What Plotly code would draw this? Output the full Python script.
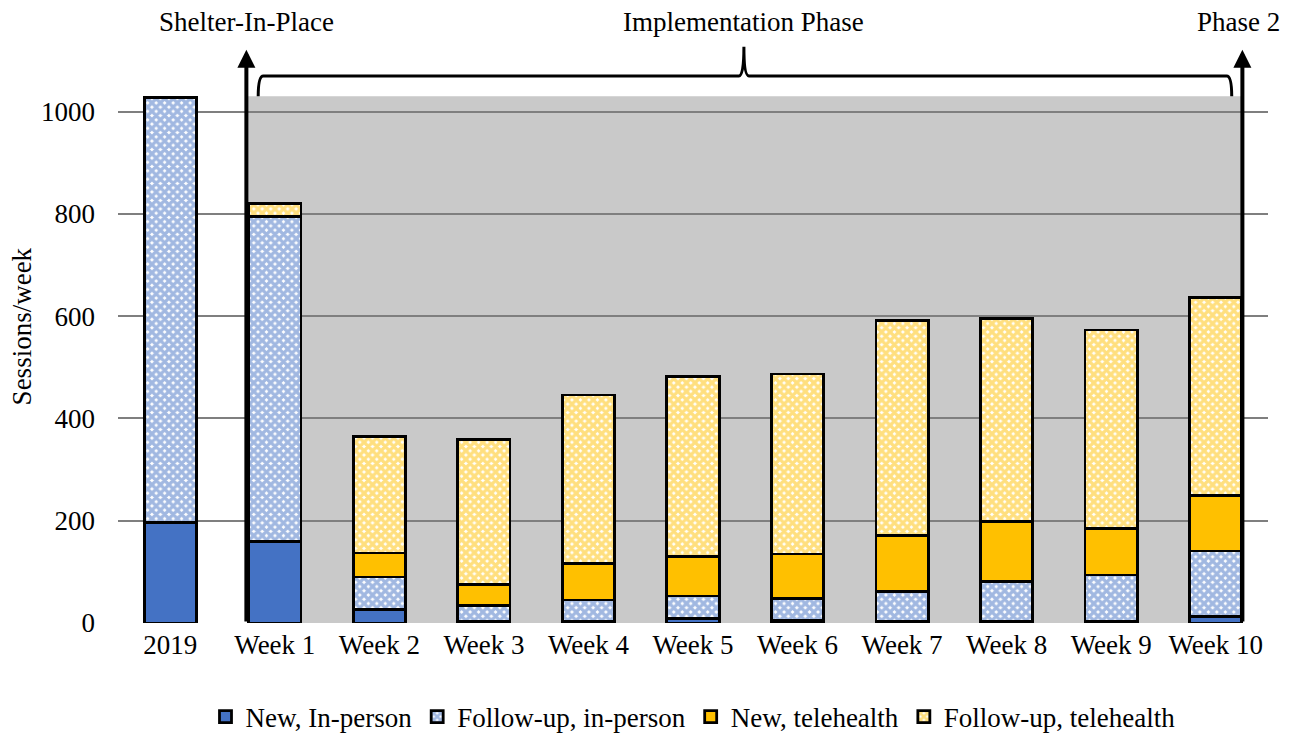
import plotly.graph_objects as go

categories = ["2019", "Week 1", "Week 2", "Week 3", "Week 4", "Week 5",
              "Week 6", "Week 7", "Week 8", "Week 9", "Week 10"]
new_inperson = [197, 160, 27, 3, 4, 9, 5, 3, 3, 3, 12]
followup_inperson = [830, 635, 63, 32, 41, 44, 43, 58, 78, 91, 129]
new_tele = [0, 0, 47, 41, 72, 77, 87, 110, 117, 91, 108]
followup_tele = [0, 25, 227, 283, 329, 352, 352, 421, 398, 388, 388]
y_ticks = [0, 200, 400, 600, 800, 1000]

BLUE = "#4472C4"
YELLOW = "#FFC000"
FONT = "Liberation Serif"
FS = 27

xpos = list(range(len(categories)))

fig = go.Figure()
common = dict(width=0.5)
fig.add_trace(go.Bar(x=xpos, y=new_inperson, name="New, In-person",
                     marker=dict(color=BLUE, line=dict(color="black", width=2.8)), **common))
fig.add_trace(go.Bar(x=xpos, y=followup_inperson, name="Follow-up, in-person",
                     marker=dict(color="white", line=dict(color="black", width=2.8),
                                 pattern=dict(shape="x", fgcolor=BLUE, bgcolor="white",
                                              size=6, solidity=0.8)), **common))
fig.add_trace(go.Bar(x=xpos, y=new_tele, name="New, telehealth",
                     marker=dict(color=YELLOW, line=dict(color="black", width=2.8)), **common))
fig.add_trace(go.Bar(x=xpos, y=followup_tele, name="Follow-up, telehealth",
                     marker=dict(color="white", line=dict(color="black", width=2.8),
                                 pattern=dict(shape="x", fgcolor=YELLOW, bgcolor="white",
                                              size=6, solidity=0.8)), **common))

# gray implementation-phase background
fig.add_shape(type="rect", xref="x", yref="y", x0=0.74, x1=10.26, y0=0, y1=1030,
              fillcolor="#C9C9C9", line_width=0, layer="below")

# curly brace
brace = ("M 0.841,1030 Q 0.841,1070 0.89,1070 L 5.44,1070 "
         "Q 5.487,1070 5.487,1127 Q 5.487,1070 5.535,1070 "
         "L 10.105,1070 Q 10.153,1070 10.153,1030")
fig.add_shape(type="path", xref="x", yref="y", path=brace,
              line=dict(color="black", width=3))

# arrows
for xv in (0.728, 10.255):
    fig.add_annotation(x=xv, y=1121, ax=xv, ay=0, xref="x", yref="y",
                       axref="x", ayref="y", text="", showarrow=True,
                       arrowhead=2, arrowsize=0.9, arrowwidth=4, arrowcolor="black")

# top labels
fig.add_annotation(x=0.728, y=1.0227, xref="x", yref="paper", text="Shelter-In-Place",
                   showarrow=False, font=dict(family=FONT, size=FS, color="black"),
                   xanchor="center", yanchor="middle")
fig.add_annotation(x=5.487, y=1.0227, xref="x", yref="paper", text="Implementation Phase",
                   showarrow=False, font=dict(family=FONT, size=FS, color="black"),
                   xanchor="center", yanchor="middle")
fig.add_annotation(x=1.0125, y=1.0227, xref="paper", yref="paper", text="Phase 2",
                   showarrow=False, font=dict(family=FONT, size=FS, color="black"),
                   xanchor="right", yanchor="middle")
# y-axis title
fig.add_annotation(x=-0.0832, y=0.505, xref="paper", yref="paper", text="Sessions/week",
                   textangle=-90, showarrow=False,
                   font=dict(family=FONT, size=FS, color="black"),
                   xanchor="center", yanchor="middle")

plot_h = 1150 * 0.511
fig.update_layout(
    width=1296, height=734,
    margin=dict(l=117.7, r=27.7, b=111, t=734 - 111 - plot_h, autoexpand=False),
    barmode="stack", bargap=0.5,
    plot_bgcolor="white", paper_bgcolor="white",
    font=dict(family=FONT, size=FS, color="black"),
    showlegend=True,
    legend=dict(orientation="h", x=0.5, xanchor="center", y=-0.16, yanchor="middle",
                font=dict(family=FONT, size=FS, color="black"), traceorder="normal",
                itemwidth=30),
)
fig.update_xaxes(range=[-0.5, 10.5], tickmode="array", tickvals=xpos, ticktext=categories,
                 showgrid=False, zeroline=False, showline=False, ticks="",
                 tickfont=dict(family=FONT, size=FS, color="black"), ticklabelstandoff=3)
fig.update_yaxes(range=[0, 1150], tickmode="array", tickvals=y_ticks,
                 showgrid=True, gridcolor="#7F7F7F", gridwidth=2, zeroline=False,
                 showline=False, ticks="", ticklabelstandoff=22,
                 tickfont=dict(family=FONT, size=FS, color="black"))

fig.write_html("out.html")
